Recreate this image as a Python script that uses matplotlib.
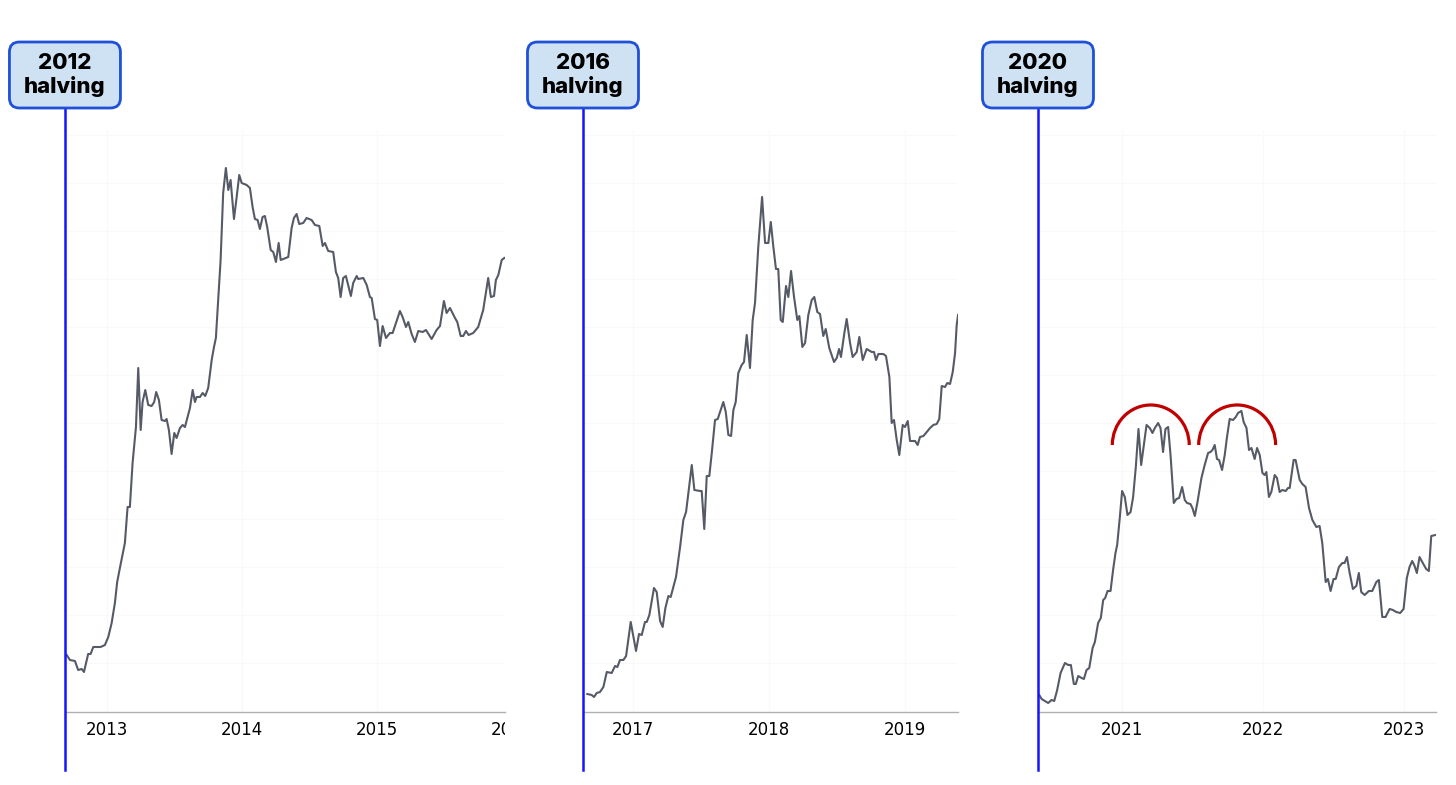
import matplotlib.pyplot as plt
from matplotlib.patches import FancyBboxPatch, Arc
from matplotlib.transforms import Bbox, TransformedBbox, blended_transform_factory

# one panel per halving cycle
halving_labels = ["2012\nhalving", "2016\nhalving", "2020\nhalving"]

# x = decimal year, y = height of the price curve on the (unlabelled) log scale
c1_years = [2012.702, 2012.726, 2012.763, 2012.787, 2012.813, 2012.830, 2012.861, 2012.879,
            2012.899, 2012.936, 2012.953, 2012.985, 2013.010, 2013.035, 2013.059, 2013.076,
            2013.096, 2013.133, 2013.153, 2013.170, 2013.190, 2013.215, 2013.232, 2013.250,
            2013.264, 2013.284, 2013.306, 2013.331, 2013.350, 2013.365, 2013.385, 2013.405,
            2013.430, 2013.442, 2013.459, 2013.479, 2013.499, 2013.516, 2013.541, 2013.561,
            2013.578, 2013.615, 2013.635, 2013.652, 2013.664, 2013.689, 2013.709, 2013.728,
            2013.750, 2013.776, 2013.793, 2013.807, 2013.824, 2013.842, 2013.861, 2013.881,
            2013.899, 2013.916, 2013.941, 2013.961, 2013.980, 2013.998, 2014.035, 2014.059,
            2014.079, 2014.096, 2014.116, 2014.133, 2014.153, 2014.170, 2014.187, 2014.213,
            2014.232, 2014.252, 2014.272, 2014.287, 2014.343, 2014.368, 2014.385, 2014.405,
            2014.424, 2014.454, 2014.479, 2014.516, 2014.541, 2014.573, 2014.598, 2014.615,
            2014.639, 2014.676, 2014.696, 2014.713, 2014.731, 2014.750, 2014.770, 2014.807,
            2014.824, 2014.850, 2014.861, 2014.899, 2014.924, 2014.948, 2014.961, 2014.985,
            2015.002, 2015.022, 2015.042, 2015.067, 2015.096, 2015.116, 2015.146, 2015.170,
            2015.190, 2015.215, 2015.232, 2015.257, 2015.281, 2015.306, 2015.339, 2015.363,
            2015.405, 2015.442, 2015.467, 2015.496, 2015.516, 2015.541, 2015.578, 2015.595,
            2015.620, 2015.639, 2015.659, 2015.679, 2015.713, 2015.750, 2015.787, 2015.824,
            2015.844, 2015.867, 2015.881, 2015.899, 2015.924, 2015.943]
c1_level = [57, 52, 51, 42, 43, 40, 58, 58, 65, 65, 65, 67, 75, 89, 109, 130,
            144, 169, 205, 205, 249, 285, 344, 282, 310, 322, 307, 306, 310, 320, 312, 292,
            291, 293, 282, 258, 279, 274, 284, 287, 285, 304, 322, 310, 315, 315, 319, 316,
            324, 352, 365, 374, 412, 452, 519, 544, 522, 532, 493, 515, 537, 529, 527, 524,
            505, 493, 492, 483, 495, 496, 485, 462, 460, 450, 469, 452, 455, 484, 494, 498,
            488, 489, 494, 492, 487, 486, 466, 469, 461, 460, 440, 434, 415, 434, 436, 416,
            429, 436, 433, 434, 427, 415, 414, 393, 392, 366, 386, 374, 379, 379, 391, 401,
            395, 385, 390, 378, 370, 381, 380, 382, 373, 382, 386, 411, 399, 404, 394, 390,
            376, 376, 381, 377, 379, 385, 402, 434, 415, 416, 432, 437, 452, 454]

c2_years = [2016.664, 2016.696, 2016.713, 2016.733, 2016.757, 2016.782, 2016.807, 2016.843,
            2016.868, 2016.885, 2016.904, 2016.929, 2016.949, 2016.983, 2017.022, 2017.044,
            2017.064, 2017.088, 2017.101, 2017.120, 2017.154, 2017.174, 2017.199, 2017.218,
            2017.238, 2017.260, 2017.277, 2017.316, 2017.346, 2017.370, 2017.390, 2017.407,
            2017.432, 2017.451, 2017.493, 2017.505, 2017.524, 2017.542, 2017.561, 2017.579,
            2017.603, 2017.623, 2017.664, 2017.682, 2017.701, 2017.721, 2017.738, 2017.755,
            2017.774, 2017.799, 2017.816, 2017.836, 2017.860, 2017.880, 2017.897, 2017.921,
            2017.949, 2017.971, 2017.995, 2018.013, 2018.032, 2018.051, 2018.068, 2018.086,
            2018.101, 2018.125, 2018.142, 2018.162, 2018.184, 2018.208, 2018.223, 2018.245,
            2018.265, 2018.289, 2018.314, 2018.333, 2018.355, 2018.375, 2018.399, 2018.417,
            2018.443, 2018.478, 2018.498, 2018.515, 2018.529, 2018.554, 2018.571, 2018.596,
            2018.615, 2018.645, 2018.664, 2018.689, 2018.718, 2018.755, 2018.772, 2018.787,
            2018.804, 2018.840, 2018.860, 2018.885, 2018.902, 2018.919, 2018.939, 2018.958,
            2018.983, 2019.000, 2019.020, 2019.037, 2019.074, 2019.093, 2019.110, 2019.135,
            2019.160, 2019.184, 2019.208, 2019.233, 2019.252, 2019.270, 2019.294, 2019.311,
            2019.331, 2019.351, 2019.368, 2019.380, 2019.390]
c2_level = [18, 17, 15, 19, 20, 25, 40, 39, 46, 45, 52, 52, 56, 90, 61, 78,
            77, 90, 90, 97, 124, 120, 91, 85, 104, 116, 115, 135, 165, 192, 200, 219,
            247, 222, 221, 221, 183, 236, 236, 259, 292, 293, 310, 300, 277, 276, 302, 310,
            339, 347, 350, 377, 344, 392, 409, 465, 515, 469, 469, 490, 465, 443, 443, 392,
            390, 426, 415, 441, 415, 392, 396, 365, 369, 397, 412, 415, 400, 398, 376, 383,
            364, 350, 354, 363, 355, 379, 393, 369, 355, 360, 375, 352, 363, 360, 360, 352,
            358, 358, 356, 335, 289, 292, 272, 257, 287, 285, 291, 271, 271, 267, 275, 276,
            280, 284, 287, 288, 293, 326, 325, 329, 328, 340, 359, 387, 397]

c3_years = [2020.415, 2020.432, 2020.455, 2020.478, 2020.502, 2020.521, 2020.542, 2020.566,
            2020.597, 2020.620, 2020.639, 2020.660, 2020.674, 2020.691, 2020.715, 2020.731,
            2020.750, 2020.769, 2020.793, 2020.809, 2020.832, 2020.851, 2020.868, 2020.882,
            2020.899, 2020.920, 2020.938, 2020.955, 2020.967, 2020.986, 2021.002, 2021.021,
            2021.040, 2021.062, 2021.080, 2021.099, 2021.118, 2021.137, 2021.156, 2021.175,
            2021.198, 2021.217, 2021.234, 2021.257, 2021.274, 2021.292, 2021.309, 2021.328,
            2021.345, 2021.368, 2021.387, 2021.406, 2021.427, 2021.446, 2021.462, 2021.486,
            2021.500, 2021.517, 2021.536, 2021.564, 2021.587, 2021.611, 2021.628, 2021.642,
            2021.658, 2021.674, 2021.689, 2021.710, 2021.729, 2021.745, 2021.764, 2021.788,
            2021.807, 2021.823, 2021.847, 2021.863, 2021.883, 2021.901, 2021.918, 2021.941,
            2021.958, 2021.977, 2021.996, 2022.012, 2022.024, 2022.042, 2022.059, 2022.083,
            2022.099, 2022.118, 2022.137, 2022.161, 2022.177, 2022.189, 2022.217, 2022.231,
            2022.260, 2022.279, 2022.302, 2022.326, 2022.350, 2022.378, 2022.401, 2022.420,
            2022.444, 2022.460, 2022.479, 2022.500, 2022.515, 2022.538, 2022.562, 2022.578,
            2022.595, 2022.614, 2022.637, 2022.661, 2022.679, 2022.696, 2022.720, 2022.750,
            2022.774, 2022.803, 2022.821, 2022.845, 2022.868, 2022.897, 2022.920, 2022.944,
            2022.972, 2022.996, 2023.019, 2023.038, 2023.057, 2023.074, 2023.090, 2023.109,
            2023.132, 2023.156, 2023.175, 2023.192, 2023.222]
c3_level = [17, 13, 11, 9, 12, 11, 22, 39, 49, 47, 47, 28, 28, 36, 34, 33,
            42, 44, 64, 70, 89, 94, 112, 114, 121, 121, 142, 159, 167, 195, 221, 215,
            197, 200, 215, 245, 283, 247, 267, 287, 284, 279, 284, 289, 284, 260, 283, 285,
            257, 209, 213, 214, 225, 212, 209, 208, 204, 196, 210, 234, 247, 259, 260, 262,
            267, 253, 252, 242, 257, 275, 293, 292, 295, 299, 301, 290, 284, 262, 264, 253,
            264, 257, 239, 237, 240, 215, 220, 237, 234, 220, 222, 221, 224, 224, 252, 252,
            232, 228, 225, 204, 192, 185, 186, 169, 130, 133, 121, 133, 133, 145, 149, 149,
            155, 139, 123, 126, 139, 120, 117, 121, 121, 130, 132, 95, 95, 103, 102, 100,
            99, 103, 134, 145, 151, 146, 139, 155, 149, 143, 141, 176, 177]

series_years = [c1_years, c2_years, c3_years]
series_level = [c1_level, c2_level, c3_level]
panel_xlim = [(2012.689, 2015.948), (2016.632, 2019.390), (2020.406, 2023.226)]
panel_ticks = [[2013, 2014, 2015, 2016], [2017, 2018, 2019], [2021, 2022, 2023]]

# the two rounded tops marked in the last cycle
double_top_years = [2021.205, 2021.817]
double_top_level = 267

# axes placement (figure fraction)
panel_left = [0.0446, 0.4004, 0.7129]
panel_width = [0.3022, 0.2576, 0.2734]
BOTTOM, HEIGHT = 0.093, 0.7414
YMAX = 582

LINE_COLOR = '#555a66'

fig = plt.figure(figsize=(14.56, 7.85), dpi=100)

for i in range(3):
    ax = fig.add_axes([panel_left[i], BOTTOM, panel_width[i], HEIGHT])
    ax.plot(series_years[i], series_level[i], color=LINE_COLOR, lw=1.5, zorder=3)
    ax.set_xlim(*panel_xlim[i])
    ax.set_ylim(0, YMAX)

    # barely visible grid
    in_range = [t for t in panel_ticks[i] if panel_xlim[i][0] < t < panel_xlim[i][1]]
    ax.set_xticks(in_range)
    ax.set_yticks(range(49, YMAX, 48))
    ax.tick_params(length=0, labelbottom=False, labelleft=False)
    ax.grid(True, color='#f9f9f9', lw=0.8)

    for side in ['top', 'right', 'left']:
        ax.spines[side].set_visible(False)
    ax.spines['bottom'].set_color('#b0b0b0')
    ax.spines['bottom'].set_linewidth(1.0)

    # year labels, clipped at the panel's right edge
    trans = blended_transform_factory(ax.transData, ax.transAxes)
    clip = TransformedBbox(Bbox([[0, -0.3], [1, 1.0]]), ax.transAxes)
    for yr in panel_ticks[i]:
        t = ax.text(yr, -0.031, str(yr), transform=trans, ha='center', va='center',
                    fontsize=12, color='black', family='DejaVu Sans')
        t.set_clip_box(clip)
        t.set_clip_on(True)

    # halving marker line
    ax.axvline(panel_xlim[i][0], ymin=-0.0997, ymax=1.038, color='#1414ff',
               lw=1.8, clip_on=False, zorder=5)

    # label box above the line
    cx = panel_left[i] * 14.56
    box = FancyBboxPatch((cx - 0.555, 6.77), 1.11, 0.66,
                         boxstyle='round,pad=0,rounding_size=0.1',
                         transform=fig.dpi_scale_trans, facecolor='#cfe2f3',
                         edgecolor='#1f50d8', lw=2.0, zorder=6)
    fig.patches.append(box)
    fig.text(cx / 14.56, 7.10 / 7.85, halving_labels[i], ha='center', va='center',
             fontsize=16, fontweight='heavy', family='Inter', linespacing=1.17,
             color='black', zorder=7)

    if i == 2:
        for x in double_top_years:
            ax.add_patch(Arc((x, double_top_level), width=0.545, height=80,
                             theta1=0, theta2=180, color='#c00000', lw=2.3, zorder=4))

fig.savefig('out.png', dpi=100, facecolor='white')
